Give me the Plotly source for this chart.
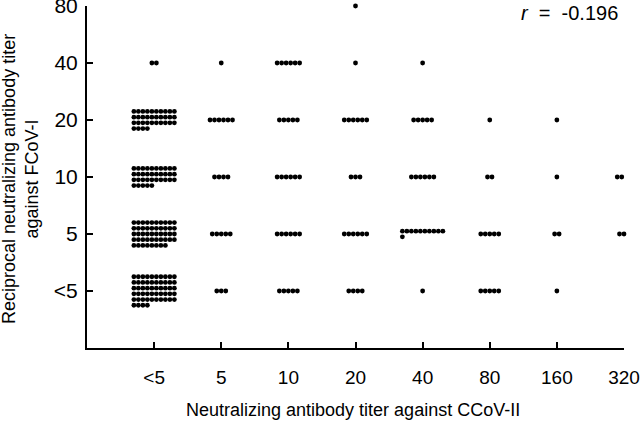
import plotly.graph_objects as go

# CCoV-II titer categories (x) and FCoV-I titer categories (y)
ccov_labels = ["<5", "5", "10", "20", "40", "80", "160", "320"]
fcov_labels = ["<5", "5", "10", "20", "40", "80"]

# number of cats per cell, one list per FCoV-I level, across CCoV-II categories
n_fcov_lt5 = [54, 3, 5, 4, 1, 5, 1, 0]
n_fcov_5 = [48, 5, 6, 6, 11, 5, 2, 3]
n_fcov_10 = [35, 4, 6, 3, 6, 2, 1, 4]
n_fcov_20 = [34, 6, 5, 6, 5, 1, 1, 0]
n_fcov_40 = [2, 1, 6, 1, 1, 0, 0, 0]
n_fcov_80 = [0, 0, 0, 1, 0, 0, 0, 0]

r_value = -0.196

counts_by_level = [n_fcov_lt5, n_fcov_5, n_fcov_10, n_fcov_20, n_fcov_40, n_fcov_80]

W, H = 641, 424
M = {"l": 87, "r": 17, "t": 6, "b": 76}
PX_X = (W - M["l"] - M["r"]) / len(ccov_labels)
PX_Y = (H - M["t"] - M["b"]) / len(fcov_labels)
DOT_PITCH = 4.5 / PX_X
ROW_PITCH = 5.7 / PX_Y
PER_ROW = 10

xs, ys = [], []
for yi, row in enumerate(counts_by_level, start=1):
    for xi, n in enumerate(row, start=1):
        if n == 0:
            continue
        n_rows = (n + PER_ROW - 1) // PER_ROW
        width = min(n, PER_ROW)
        for k in range(n):
            r, c = divmod(k, PER_ROW)
            xs.append(xi + (c - (width - 1) / 2) * DOT_PITCH)
            ys.append(yi + ((n_rows - 1) / 2 - r) * ROW_PITCH)

font = "Liberation Sans, Arial, sans-serif"

fig = go.Figure()
fig.add_trace(
    go.Scatter(
        x=xs,
        y=ys,
        mode="markers",
        marker={"size": 4.8, "color": "#000000"},
        cliponaxis=False,
        hoverinfo="skip",
    )
)

axis_common = {
    "showline": True,
    "linecolor": "#000000",
    "linewidth": 2,
    "ticks": "inside",
    "ticklen": 6,
    "tickwidth": 1.5,
    "tickcolor": "#000000",
    "showgrid": False,
    "zeroline": False,
    "fixedrange": True,
    "automargin": False,
    "ticklabeloverflow": "allow",
}

fig.update_xaxes(
    range=[0, len(ccov_labels)],
    tickvals=list(range(1, len(ccov_labels) + 1)),
    ticktext=ccov_labels,
    tickfont={"size": 19, "color": "#000000"},
    ticklabelstandoff=11,
    **axis_common,
)
fig.update_yaxes(
    range=[0, len(fcov_labels)],
    tickvals=list(range(1, len(fcov_labels) + 1)),
    ticktext=fcov_labels,
    tickfont={"size": 21, "color": "#000000"},
    ticklabelstandoff=3,
    **axis_common,
)

plot_w = W - M["l"] - M["r"]
plot_h = H - M["t"] - M["b"]

fig.update_layout(
    width=W,
    height=H,
    margin=M,
    paper_bgcolor="#ffffff",
    plot_bgcolor="#ffffff",
    showlegend=False,
    font={"family": font, "color": "#000000"},
    annotations=[
        {
            "text": "Neutralizing antibody titer against CCoV-II",
            "xref": "paper",
            "yref": "paper",
            "x": (353 - M["l"]) / plot_w,
            "y": (H - M["b"] - 410) / plot_h,
            "xanchor": "center",
            "yanchor": "middle",
            "showarrow": False,
            "font": {"size": 18},
        },
        {
            "text": "Reciprocal neutralizing antibody titer<br>against FCoV-I",
            "xref": "paper",
            "yref": "paper",
            "x": (21 - M["l"]) / plot_w,
            "y": (H - M["b"] - 179) / plot_h,
            "xanchor": "center",
            "yanchor": "middle",
            "textangle": -90,
            "showarrow": False,
            "font": {"size": 18},
        },
        {
            "text": f"<i>r</i>  =  {r_value:.3f}",
            "xref": "paper",
            "yref": "paper",
            "x": (620 - M["l"]) / plot_w,
            "y": (H - M["b"] - 13) / plot_h,
            "xanchor": "right",
            "yanchor": "middle",
            "showarrow": False,
            "font": {"size": 20},
        },
    ],
)

fig.write_html(
    "out.html",
    config={"displayModeBar": False},
    post_script="document.body.style.margin='0';",
)
